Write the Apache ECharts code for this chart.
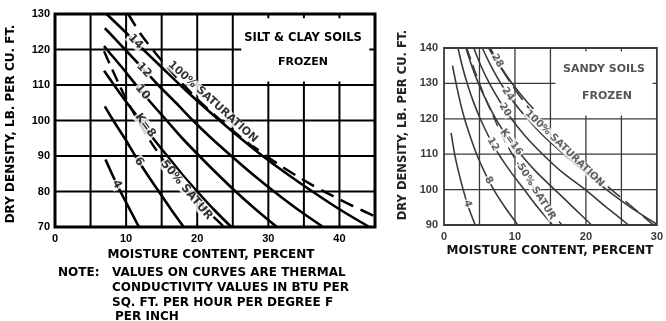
<!DOCTYPE html>
<html><head><meta charset="utf-8">
<script src="https://cdn.jsdelivr.net/npm/echarts@6/dist/echarts.min.js"></script>
<style>html,body{margin:0;padding:0;background:#fff}#c{width:666px;height:321px}</style>
</head><body><div id="c"></div>
<script>
// ================= DATA =================
// Left chart: SILT & CLAY SOILS, FROZEN  (x = moisture %, y = dry density pcf)
const siltK4  = [[7.1,89],[8.0,85],[9.2,80],[10.5,75],[11.8,70]];
const siltK6  = [[7.0,104],[8.2,100],[9.8,95],[11.3,90],[12.9,85],[14.6,80],[16.3,75],[18.1,70]];
const siltK8  = [[6.9,114],[8.3,110],[10.1,105],[12.0,100],[13.8,95],[15.8,90],[17.8,85],[20.0,80],[22.3,75],[24.8,70]];
const siltK10 = [[6.9,121],[7.3,120],[9.4,115],[11.4,110],[13.5,105],[15.7,100],[17.9,95],[20.3,90],[22.8,85],[25.4,80],[28.2,75],[31.2,70]];
const siltK12 = [[7.0,126],[7.5,125],[9.85,120],[12.2,115],[14.5,110],[17.0,105],[19.4,100],[22.0,95],[24.8,90],[27.7,85],[30.8,80],[34.1,75],[37.7,70]];
const siltK14 = [[7.25,130],[9.85,125],[12.4,120],[15.0,115],[17.6,110],[20.3,105],[23.15,100],[26.1,95],[29.2,90],[32.6,85],[36.2,80],[40.0,75],[44.2,70]];
const siltSat100 = [[10.3,130],[12,124.5],[14,119.3],[16,114.6],[18,110.2],[20,106],[22,102.3],[24,98.8],[26,95.5],[28,92.5],[30,89.6],[32,86.9],[34,84.4],[36,82.0],[38,79.8],[40,77.8],[42,75.8],[45,73.0]];
const siltSat50 = [[6.9,119.5],[8,114.6],[9,110.2],[10,106.1],[12,98.8],[14,92.4],[16,86.8],[18,81.8],[20,77.4],[22,73.4],[23.8,70]];
const siltXRange = [0, 45], siltYRange = [70, 130];

// Right chart: SANDY SOILS, FROZEN
const sandK4  = [[1.0,116],[1.5,110],[2.05,105],[2.7,100],[3.45,95],[4.4,90]];
const sandK8  = [[1.2,135],[1.7,130],[2.25,125],[2.9,120],[3.7,115],[4.6,110],[5.7,105],[7.0,100],[8.6,95],[10.4,90]];
const sandK12 = [[1.97,140],[2.56,135],[3.27,130],[4.11,125],[5.11,120],[6.3,115],[7.7,110],[9.4,105],[11.3,100],[13.2,95],[15.3,90]];
const sandK16 = [[3.1,140],[3.9,135],[4.85,130],[6.0,125],[7.3,120],[8.9,115],[10.8,110],[13.0,105],[15.6,100],[18.2,95],[20.8,90]];
const sandK20 = [[4.2,140],[5.2,135],[6.4,130],[7.85,125],[9.5,120],[11.5,115],[13.9,110],[16.6,105],[19.9,100],[22.9,95],[26.0,90]];
const sandK24 = [[5.4,140],[6.6,135],[8.0,130],[9.7,125],[11.75,120],[14.1,115],[16.9,110],[19.8,105],[22.9,100],[26.3,95],[30,90.2]];
const sandK28 = [[6.5,140],[7.9,135],[9.6,130],[11.6,125],[12.6,122.8]];
const sandSat100 = [[6.3,140],[7,137.6],[8,134.4],[10,128.3],[12,122.9],[14,118.0],[16,113.6],[18,109.6],[20,106.0],[22,102.6],[24,99.3],[26,96.0],[28,92.6],[29.5,90]];
const sandSat50 = [[3.2,140],[4,135.5],[5,130],[6,125],[7,120.5],[8,116],[9,112.2],[10,108.7],[11,105.4],[12,102.3],[13,99.4],[14,96.6],[15,94],[16,91.5],[16.8,89.6]];
const sandXRange = [0, 30], sandYRange = [90, 140];

// curve annotations (text placed on the curves, in data units)
const siltNotes = [
  {text:'14', at:[11.3,122.2], angle:-46},
  {text:'12', at:[12.5,114.2], angle:-48},
  {text:'10', at:[12.3,108.0], angle:-51},
  {text:'K=8', at:[12.7,98.6], angle:-54},
  {text:'6', at:[11.8,88.4], angle:-57},
  {text:'4', at:[8.7,82.0], angle:-62},
  {text:'50% SATUR', at:[18.5,80.4], angle:-50}
];
const siltSatNote = {text:'100% SATURATION', at:[22.2,105.2], angle:-42};
const sandNotes = [
  {text:'28', at:[7.5,136.4], angle:-60},
  {text:'24', at:[9.0,127.0], angle:-56},
  {text:'20', at:[8.6,122.5], angle:-57},
  {text:'K=16', at:[9.5,113.4], angle:-53},
  {text:'12', at:[6.9,112.8], angle:-61},
  {text:'8', at:[6.3,102.6], angle:-62},
  {text:'4', at:[3.3,96.0], angle:-72},
  {text:'100% SATURATION', at:[17.0,111.6], angle:-44},
  {text:'50% SATUR', at:[13.0,99.4], angle:-58}
];

// ================= STYLE / BUILD =================
const BLACK = '#000', GREY = '#3a3a3a';
const TXT = '"DejaVu Sans", sans-serif';
const NUM = '"Liberation Sans", Arial, sans-serif';
const series = [];

function rule(pts, gi, color, width) {
  series.push({type:'line', xAxisIndex:gi, yAxisIndex:gi, data:pts, symbol:'none', silent:true, z:1,
    lineStyle:{color, width}, animation:false});
}
function curve(data, gi, color, width, dash) {
  series.push({type:'line', xAxisIndex:gi, yAxisIndex:gi, data, symbol:'none', showSymbol:false, smooth:0.3,
    silent:true, z:3, lineStyle:{color, width, type: dash || 'solid'}, animation:false});
}
function notes(items, gi, color, size, bg) {
  series.push({type:'scatter', xAxisIndex:gi, yAxisIndex:gi, symbolSize:1, silent:true, z:6, animation:false,
    itemStyle:{color:'rgba(0,0,0,0)'},
    label:{show:true, position:'inside', color, fontSize:size, fontWeight:'bold', fontFamily:TXT,
           backgroundColor: bg, padding:[0,1]},
    data: items.map(n => ({value:n.at, label:{formatter:n.text, rotate:n.angle}}))});
}

// grid lines (left) with clear title box x 25..45, y 110..130
[5,10,15,20,25].forEach(x => rule([[x,70],[x,130]], 0, BLACK, 2));
[30,35,40].forEach(x => { rule([[x,70],[x,110]], 0, BLACK, 2); rule([[x,130],[x,128.8]], 0, BLACK, 2); rule([[x,110],[x,111]], 0, BLACK, 2); });
[80,90,100,110].forEach(y => rule([[0,y],[45,y]], 0, BLACK, 2));
rule([[0,120],[26.2,120]], 0, BLACK, 2); rule([[44.2,120],[45,120]], 0, BLACK, 2);
// grid lines (right) with clear title box x 15..30, y 120..140
[5,10,15].forEach(x => rule([[x,90],[x,140]], 1, GREY, 1.3));
[20,25].forEach(x => { rule([[x,90],[x,120]], 1, GREY, 1.3); rule([[x,140],[x,139]], 1, GREY, 1.3); rule([[x,120],[x,120.9]], 1, GREY, 1.3); });
[100,110,120].forEach(y => rule([[0,y],[30,y]], 1, GREY, 1.3));
rule([[0,130],[15.7,130]], 1, GREY, 1.3); rule([[29.4,130],[30,130]], 1, GREY, 1.3);

// curves
[siltK4, siltK6, siltK8, siltK10, siltK12, siltK14].forEach(d => curve(d, 0, BLACK, 2.6));
curve(siltSat100, 0, BLACK, 2.5, [14,8]);
curve(siltSat50, 0, BLACK, 2.4, [13,7]);
[sandK4, sandK8, sandK12, sandK16, sandK20, sandK24, sandK28].forEach(d => curve(d, 1, GREY, 1.6));
curve(sandSat100, 1, GREY, 1.6, [16,7]);
curve(sandSat50, 1, GREY, 1.5, [12,6]);

notes(siltNotes, 0, BLACK, 11.5, '#fff');
notes([siltSatNote], 0, BLACK, 11, '#fff');
notes(sandNotes, 1, GREY, 10, '#fff');

function axisLabel(color, extra) {
  return Object.assign({color, fontSize:11, fontWeight:'bold', fontFamily:NUM}, extra);
}
const option = {
  animation:false,
  backgroundColor:'#fff',
  grid:[
    {left:55, top:14, width:320, height:213, show:true, borderColor:BLACK, borderWidth:3, backgroundColor:'transparent'},
    {left:444, top:48, width:213, height:177, show:true, borderColor:GREY, borderWidth:1.8, backgroundColor:'transparent'}
  ],
  xAxis:[
    {gridIndex:0, type:'value', min:siltXRange[0], max:siltXRange[1], interval:10, splitLine:{show:false},
     axisLine:{show:false}, axisTick:{show:false}, axisLabel:axisLabel(BLACK,{margin:6, showMaxLabel:false})},
    {gridIndex:1, type:'value', min:sandXRange[0], max:sandXRange[1], interval:10, splitLine:{show:false},
     axisLine:{show:false}, axisTick:{show:false}, axisLabel:axisLabel(GREY,{margin:6})}
  ],
  yAxis:[
    {gridIndex:0, type:'value', min:siltYRange[0], max:siltYRange[1], interval:10, splitLine:{show:false},
     axisLine:{show:false}, axisTick:{show:false}, axisLabel:axisLabel(BLACK,{margin:5})},
    {gridIndex:1, type:'value', min:sandYRange[0], max:sandYRange[1], interval:10, splitLine:{show:false},
     axisLine:{show:false}, axisTick:{show:false}, axisLabel:axisLabel(GREY,{margin:6})}
  ],
  series,
  graphic:[
    txt('DRY DENSITY, LB. PER CU. FT.', 11, 124, 12, BLACK, Math.PI/2),
    txt('MOISTURE CONTENT, PERCENT', 211, 255, 12, BLACK),
    txt('SILT & CLAY SOILS', 303, 38, 11.5, BLACK),
    txt('FROZEN', 303, 62, 11, BLACK),
    txtL('NOTE:', 58, 273, 12, BLACK),
    txtL('VALUES ON CURVES ARE THERMAL', 112, 273, 12, BLACK),
    txtL('CONDUCTIVITY VALUES IN BTU PER', 112, 288, 12, BLACK),
    txtL('SQ. FT. PER HOUR PER DEGREE F', 112, 303, 12, BLACK),
    txtL('PER INCH', 115, 317, 12, BLACK),
    txt('DRY DENSITY, LB. PER CU. FT.', 403, 125, 11.5, '#222', Math.PI/2),
    txt('MOISTURE CONTENT, PERCENT', 550, 251, 12, '#111'),
    txt('SANDY SOILS', 604, 69, 11, '#555'),
    txt('FROZEN', 607, 96, 11, '#555')
  ]
};
function txt(text, x, y, size, color, rot) {
  return {type:'text', x, y, rotation: rot || 0, silent:true, z:10,
    style:{text, fill:color, fontSize:size, fontWeight:'bold', fontFamily:TXT, align:'center', verticalAlign:'middle'}};
}
function txtL(text, x, y, size, color) {
  return {type:'text', x, y, silent:true, z:10,
    style:{text, fill:color, fontSize:size, fontWeight:'bold', fontFamily:TXT, align:'left', verticalAlign:'middle'}};
}
const chart = echarts.init(document.getElementById('c'), null, {renderer:'canvas'});
chart.setOption(option);
</script></body></html>
